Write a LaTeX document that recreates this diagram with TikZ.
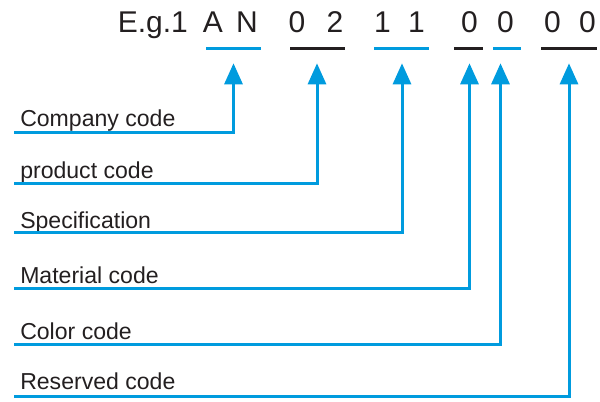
\documentclass[tikz,border=0pt]{standalone}
\usepackage{fontspec}
\setmainfont{Liberation Sans}
\usetikzlibrary{arrows.meta}
\definecolor{cblue}{RGB}{0,155,222}
\definecolor{cink}{RGB}{35,31,32}
\begin{document}
\begin{tikzpicture}[x=0.75pt,y=-0.75pt,
  lbl/.style={anchor=base west,inner sep=0pt,text=cink,font=\fontsize{17.3pt}{19pt}\selectfont},
  chr/.style={anchor=base,inner sep=0pt,text=cink,font=\fontsize{22.5pt}{25pt}\selectfont},
  conn/.style={draw=cblue,line width=2.25pt,line join=miter,-{Triangle[width=13.5pt,length=15.75pt]},color=cblue},
  ulblue/.style={draw=cblue,line width=2.25pt},
  ulblack/.style={draw=cink,line width=2.25pt}]
\useasboundingbox (0,0) rectangle (600,401);
% title characters
\node[chr,anchor=base west] (eg) at (117.5,32.7) {E.g.1};
\node[chr] (c1) at (213,32.7) {A};
\node[chr] (c2) at (247,32.7) {N};
\node[chr] (c3) at (297,32.7) {0};
\node[chr] (c4) at (335,32.7) {2};
\node[chr] (c5) at (382.5,32.7) {1};
\node[chr] (c6) at (416.5,32.7) {1};
\node[chr] (c7) at (469.5,32.7) {0};
\node[chr] (c8) at (505.5,32.7) {0};
\node[chr] (c9) at (552.5,32.7) {0};
\node[chr] (c10) at (587.5,32.7) {0};
% underlines
\coordinate (u1a) at (206,48.3); \coordinate (u1b) at (261,48.3);
\coordinate (u2a) at (290,48.3); \coordinate (u2b) at (345,48.3);
\coordinate (u3a) at (374,48.3); \coordinate (u3b) at (429,48.3);
\coordinate (u4a) at (454,48.3); \coordinate (u4b) at (483,48.3);
\coordinate (u5a) at (493,48.3); \coordinate (u5b) at (521,48.3);
\coordinate (u6a) at (541,48.3); \coordinate (u6b) at (597,48.3);
\draw[ulblue] (u1a) -- (u1b);
\draw[ulblack] (u2a) -- (u2b);
\draw[ulblue] (u3a) -- (u3b);
\draw[ulblack] (u4a) -- (u4b);
\draw[ulblue] (u5a) -- (u5b);
\draw[ulblack] (u6a) -- (u6b);
% arrow tips
\coordinate (t1) at (233.5,63.3);
\coordinate (t2) at (317,63.3);
\coordinate (t3) at (402,63.3);
\coordinate (t4) at (469.5,63.3);
\coordinate (t5) at (500.5,63.3);
\coordinate (t6) at (569,63.3);
% labels
\node[lbl] (n1) at (20,126.7) {Company code};
\node[lbl] (n2) at (20,178.3) {product code};
\node[lbl] (n3) at (20,228.0) {Specification};
\node[lbl] (n4) at (20,283.3) {Material code};
\node[lbl] (n5) at (20,339.5) {Color code};
\node[lbl] (n6) at (20,389.5) {Reserved code};
% line starts
\coordinate (s1) at (14,132);
\coordinate (s2) at (14,183.3);
\coordinate (s3) at (14,232.7);
\coordinate (s4) at (14,288.3);
\coordinate (s5) at (14,344);
\coordinate (s6) at (14,396.5);
\draw[conn] (s1) -| (t1);
\draw[conn] (s2) -| (t2);
\draw[conn] (s3) -| (t3);
\draw[conn] (s4) -| (t4);
\draw[conn] (s5) -| (t5);
\draw[conn] (s6) -| (t6);
\end{tikzpicture}
\end{document}
